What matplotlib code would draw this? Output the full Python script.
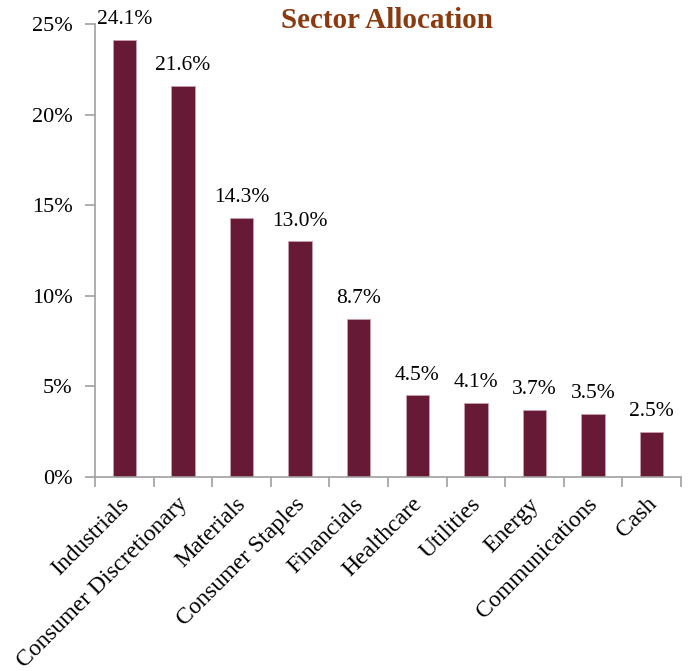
import matplotlib
matplotlib.use("Agg")
import matplotlib.pyplot as plt
import matplotlib.transforms as mtransforms
import numpy as np

sectors = ["Industrials", "Consumer Discretionary", "Materials", "Consumer Staples",
           "Financials", "Healthcare", "Utilities", "Energy", "Communications", "Cash"]
weights = [24.1, 21.6, 14.3, 13.0, 8.7, 4.5, 4.1, 3.7, 3.5, 2.5]
y_ticks = [0, 5, 10, 15, 20, 25]

plt.rcParams['font.family'] = ['Liberation Serif', 'DejaVu Serif']

fig = plt.figure(figsize=(6.89, 6.71), dpi=100)
ax = fig.add_axes([95/689, 1 - 477/671, (681 - 95)/689, (477 - 24)/671])

x = np.arange(len(sectors))
bars = ax.bar(x, weights, width=0.4, color='#661A35', edgecolor='#C9A0AE', linewidth=0.6)

for xi, v in zip(x, weights):
    ax.text(xi, v + 0.6, f"{v:.1f}%", ha='center', va='bottom', fontsize=15.5)

ax.set_xlim(-0.5, len(sectors) - 0.5)
ax.set_ylim(0, 25)
ax.set_yticks(y_ticks)
ax.set_yticklabels([f"{t}%" for t in y_ticks], fontsize=16)

# ticks sit between categories, labels under bar centres
ax.set_xticks(np.arange(len(sectors) + 1) - 0.5)
ax.set_xticklabels([])
ax.set_xticks(x, minor=True)
ax.set_xticklabels(sectors, minor=True, rotation=45, ha='right', rotation_mode='anchor', fontsize=17)
ax.tick_params(axis='x', which='minor', length=0, pad=12)
ax.tick_params(axis='both', which='major', direction='out', length=7, color='#A0A0A0', width=1.2)
ax.tick_params(axis='y', pad=9)

shift = mtransforms.ScaledTranslation(-6/100, 0, fig.dpi_scale_trans)
for lbl in ax.get_xticklabels(minor=True):
    lbl.set_transform(lbl.get_transform() + shift)

for side in ['top', 'right']:
    ax.spines[side].set_visible(False)
for side in ['left', 'bottom']:
    ax.spines[side].set_color('#A0A0A0')
    ax.spines[side].set_linewidth(1.2)

fig.text(387/689, 1 - 20/671, "Sector Allocation", ha='center', va='center',
         fontsize=21, fontweight='bold', color='#8B3A10')

fig.savefig("out.png", dpi=100)
